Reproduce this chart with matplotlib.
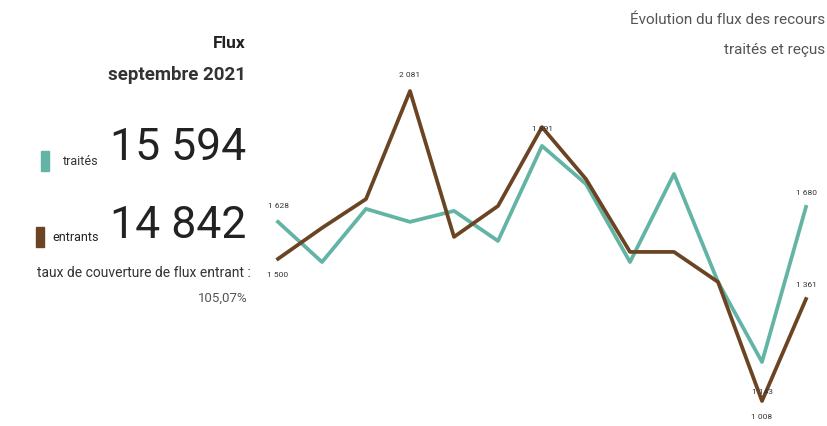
import matplotlib
matplotlib.use("Agg")
import matplotlib.pyplot as plt
from matplotlib.patches import Rectangle

# monthly flows
months = list(range(13))
traites = [1628, 1489, 1673, 1628, 1666, 1562, 1891, 1759, 1489, 1794, 1420, 1143, 1680]
entrants = [1500, 1607, 1707, 2081, 1576, 1683, 1956, 1776, 1524, 1524, 1420, 1008, 1361]

total_traites = "15 594"
total_entrants = "14 842"
taux = "105,07%"

TEAL = "#63b4a5"
BROWN = "#6b4423"
plt.rcParams["font.family"] = ["Roboto", "DejaVu Sans"]

W, H = 827, 427
fig = plt.figure(figsize=(W / 100, H / 100), dpi=100)
fig.patch.set_facecolor("white")


def fx(px):
    return px / W


def fy(py):
    return 1 - py / H


# line chart: axes positioned so the data spans the drawn area
ax = fig.add_axes([fx(278), fy(402), fx(806) - fx(278), fy(92) - fy(402)])
ax.plot(months, traites, color=TEAL, lw=2.7, clip_on=False)
ax.plot(months, entrants, color=BROWN, lw=2.7, clip_on=False)
ax.set_xlim(0, 12)
ax.set_ylim(min(entrants), max(entrants))
ax.axis("off")


def fmt(v):
    return f"{v:,}".replace(",", " ")


def label(i, v, dy):
    ax.annotate(fmt(v), (months[i], v), xytext=(0, dy), textcoords="offset points",
                ha="center", va="center", fontsize=6, color="#333333")


last = len(months) - 1
label(0, traites[0], 12)
label(0, entrants[0], -11)
label(last, traites[last], 11)
label(last, entrants[last], 11)
imax_e = entrants.index(max(entrants))
label(imax_e, entrants[imax_e], 12)
imax_t = traites.index(max(traites))
label(imax_t, traites[imax_t], 13)
imin_t = traites.index(min(traites))
label(imin_t, traites[imin_t], -21)
imin_e = entrants.index(min(entrants))
label(imin_e, entrants[imin_e], -11)

# left panel
fig.text(fx(246), fy(43), "Flux", ha="right", va="center", fontsize=12.5,
         fontweight="bold", color="#222222")
fig.text(fx(246), fy(75), "septembre 2021", ha="right", va="center", fontsize=13.5,
         fontweight="bold", color="#333333")
fig.text(fx(246), fy(148), total_traites, ha="right", va="center", fontsize=32,
         color="#222222")
fig.text(fx(246), fy(226), total_entrants, ha="right", va="center", fontsize=32,
         color="#222222")
fig.patches.append(Rectangle((fx(41), fy(172)), fx(8), fy(152) - fy(172),
                             transform=fig.transFigure, color=TEAL))
fig.patches.append(Rectangle((fx(36), fy(248)), fx(8), fy(228) - fy(248),
                             transform=fig.transFigure, color=BROWN))
fig.text(fx(99), fy(162), "traités", ha="right", va="center", fontsize=9, color="#333333")
fig.text(fx(99), fy(238), "entrants", ha="right", va="center", fontsize=9, color="#222222")
fig.text(fx(251), fy(273), "taux de couverture de flux entrant :", ha="right",
         va="center", fontsize=10, color="#333333")
fig.text(fx(248), fy(298), taux, ha="right", va="center", fontsize=9.5, color="#555555")

# title at the top right
fig.text(fx(825), fy(20), "Évolution du flux des recours", ha="right", va="center",
         fontsize=11, color="#555555")
fig.text(fx(825), fy(50), "traités et reçus", ha="right", va="center",
         fontsize=11, color="#555555")

fig.savefig("out.png", dpi=100, facecolor="white")
